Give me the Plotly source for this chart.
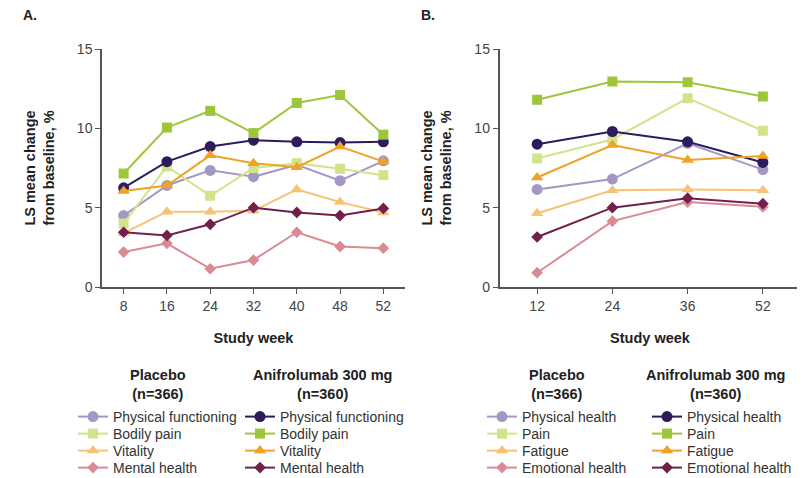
import plotly.graph_objects as go

# ---------------- data ----------------
weeks_a = ["8", "16", "24", "32", "40", "48", "52"]
weeks_b = ["12", "24", "36", "52"]

# Panel A
a_pbo_phys = [4.5, 6.4, 7.35, 6.95, 7.7, 6.7, 7.95]
a_pbo_pain = [4.0, 7.6, 5.75, 7.5, 7.8, 7.45, 7.05]
a_pbo_vit = [3.4, 4.75, 4.75, 4.8, 6.15, 5.35, 4.7]
a_pbo_ment = [2.2, 2.75, 1.15, 1.7, 3.45, 2.55, 2.45]
a_ani_phys = [6.25, 7.9, 8.85, 9.25, 9.15, 9.1, 9.15]
a_ani_pain = [7.15, 10.05, 11.1, 9.7, 11.6, 12.1, 9.6]
a_ani_vit = [6.05, 6.4, 8.3, 7.8, 7.55, 8.85, 7.9]
a_ani_ment = [3.45, 3.25, 3.95, 5.0, 4.7, 4.5, 4.95]

# Panel B
b_pbo_phys = [6.15, 6.8, 9.05, 7.4]
b_pbo_pain = [8.1, 9.3, 11.9, 9.85]
b_pbo_fat = [4.65, 6.1, 6.15, 6.1]
b_pbo_emo = [0.9, 4.15, 5.35, 5.05]
b_ani_phys = [9.0, 9.8, 9.15, 7.85]
b_ani_pain = [11.8, 12.95, 12.9, 12.0]
b_ani_fat = [6.9, 8.95, 8.0, 8.25]
b_ani_emo = [3.15, 5.0, 5.6, 5.25]

labels_a = ["Physical functioning", "Bodily pain", "Vitality", "Mental health"]
labels_b = ["Physical health", "Pain", "Fatigue", "Emotional health"]

group_titles = ["Placebo<br>(n=366)", "Anifrolumab 300 mg<br>(n=360)"]

pbo_colors = ["#a497c4", "#d3e38c", "#f8c274", "#da8a92"]
ani_colors = ["#2d1b5b", "#9ec63a", "#f0a227", "#711f4b"]
symbols = ["circle", "square", "triangle-up", "diamond"]
sizes = [11, 10, 11, 9]

FONT = "Liberation Sans, Arial, sans-serif"
W, H = 805, 478
OFF = 8  # page body margin in the browser


def px(x):
    return (x - OFF) / W


def py(y):
    return 1 - (y - OFF) / H


fig = go.Figure()

legend_font = dict(family=FONT, size=14, color="#333333")
row_y = [417, 434, 451, 468]
legend_count = [0]


def add_series(x, ys, labels, colors, xa, ya, marker_x):
    for i, (y, lab, col, sym, sz) in enumerate(zip(ys, labels, colors, symbols, sizes)):
        legend_count[0] += 1
        n = legend_count[0]
        lid = "legend" if n == 1 else "legend%d" % n
        fig.add_trace(go.Scatter(
            x=x, y=y, name=lab, mode="lines+markers", showlegend=True,
            line=dict(color=col, width=2),
            marker=dict(color=col, symbol=sym, size=sz),
            xaxis=xa, yaxis=ya, legend=lid,
        ))
        fig.update_layout({lid: dict(
            x=px(marker_x - 20), y=py(row_y[i]), xanchor="left", yanchor="middle",
            font=legend_font, bgcolor="rgba(0,0,0,0)", borderwidth=0, itemwidth=30,
            itemclick=False, itemdoubleclick=False, visible=True,
        )})


add_series(weeks_a, [a_pbo_phys, a_pbo_pain, a_pbo_vit, a_pbo_ment], labels_a, pbo_colors, "x", "y", 93)
add_series(weeks_a, [a_ani_phys, a_ani_pain, a_ani_vit, a_ani_ment], labels_a, ani_colors, "x", "y", 260)
add_series(weeks_b, [b_pbo_phys, b_pbo_pain, b_pbo_fat, b_pbo_emo], labels_b, pbo_colors, "x2", "y2", 502)
add_series(weeks_b, [b_ani_phys, b_ani_pain, b_ani_fat, b_ani_emo], labels_b, ani_colors, "x2", "y2", 667)

axis_common = dict(
    showgrid=False, zeroline=False, showline=True, linecolor="#555555", linewidth=1.5,
    ticks="outside", ticklen=5, tickwidth=1.2, tickcolor="#555555", automargin=False,
    tickfont=dict(family=FONT, size=14, color="#444444"),
)
title_font = dict(family=FONT, size=14.5, color="#222222")
ytitle = "<b>LS mean change<br>from baseline, %</b>"

fig.update_layout(
    width=W, height=H, showlegend=True,
    margin=dict(l=0, r=0, t=0, b=0, autoexpand=False),
    paper_bgcolor="white", plot_bgcolor="white",
    font=dict(family=FONT, color="#333333"),
    xaxis=dict(domain=[px(102), px(405)], type="category", range=[-0.5, 6.5], anchor="y",
               title=dict(text="<b>Study week</b>", font=title_font, standoff=20), **axis_common),
    yaxis=dict(domain=[py(287), py(49)], range=[0, 15], tickvals=[0, 5, 10, 15], anchor="x",
               title=dict(text=ytitle, font=title_font, standoff=19), **axis_common),
    xaxis2=dict(domain=[px(499.5), px(800.5)], type="category", range=[-0.5, 3.5], anchor="y2",
                title=dict(text="<b>Study week</b>", font=title_font, standoff=20), **axis_common),
    yaxis2=dict(domain=[py(287), py(49)], range=[0, 15], tickvals=[0, 5, 10, 15], anchor="x2",
                title=dict(text=ytitle, font=title_font, standoff=19), **axis_common),
)

head_font = dict(family=FONT, size=14.5, color="#222222")
for xc, txt in [(158, group_titles[0]), (322, group_titles[1]),
                (557, group_titles[0]), (715, group_titles[1])]:
    fig.add_annotation(x=px(xc), y=py(384), xref="paper", yref="paper", text="<b>" + txt + "</b>",
                       showarrow=False, font=head_font, xanchor="center", yanchor="middle", align="center")

for xc, txt in [(21, "A."), (419, "B.")]:
    fig.add_annotation(x=px(xc), y=py(15), xref="paper", yref="paper", text="<b>" + txt + "</b>",
                       showarrow=False, font=dict(family=FONT, size=14, color="#222222"),
                       xanchor="left", yanchor="middle")

fig.write_html("out.html")
